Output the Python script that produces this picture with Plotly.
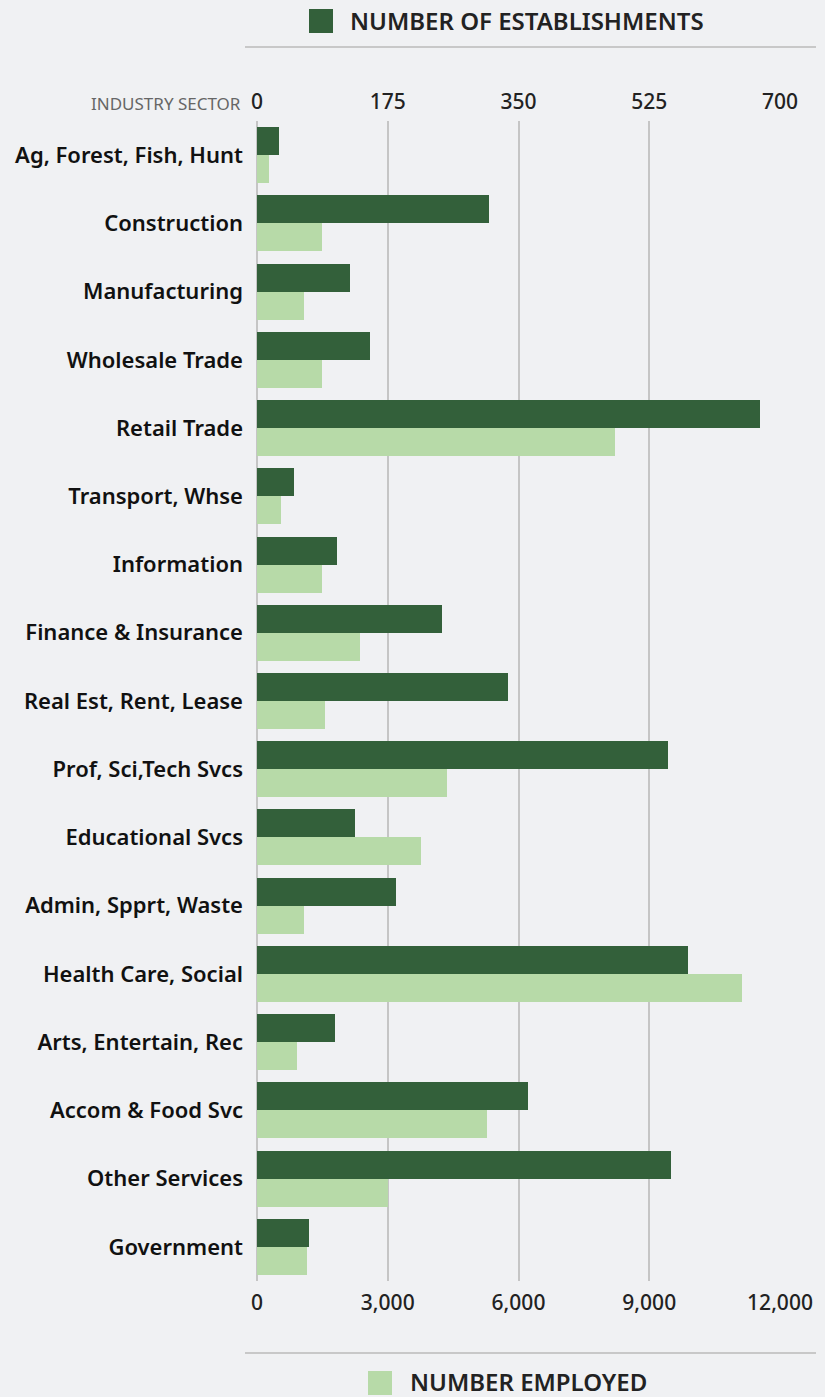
import plotly.graph_objects as go

# Industry sectors, top to bottom
sectors = [
    "Ag, Forest, Fish, Hunt", "Construction", "Manufacturing", "Wholesale Trade",
    "Retail Trade", "Transport, Whse", "Information", "Finance & Insurance",
    "Real Est, Rent, Lease", "Prof, Sci,Tech Svcs", "Educational Svcs",
    "Admin, Spprt, Waste", "Health Care, Social", "Arts, Entertain, Rec",
    "Accom & Food Svc", "Other Services", "Government",
]
establishments = [29, 311, 124, 151, 673, 49, 107, 248, 336, 550, 131, 186, 577, 104, 363, 554, 69]
employed = [270, 1490, 1070, 1490, 8210, 550, 1490, 2360, 1560, 4350, 3760, 1070, 11130, 910, 5270, 3000, 1140]

est_ticks = [0, 175, 350, 525, 700]
emp_ticks = [0, 3000, 6000, 9000, 12000]

DARK = "#33603a"
LIGHT = "#b7daa8"
BG = "#f0f1f3"
GRID = "#c5c5c5"

W, H = 825, 1397
L, R, T, B = 257, 780, 121, 1281  # plot area in pixels


def px(x, y):
    """pixel position -> paper coordinates"""
    return (x - L) / (R - L), (B - y) / (B - T)


fig = go.Figure()

fig.add_trace(go.Bar(
    y=sectors, x=establishments, orientation="h", xaxis="x2",
    marker=dict(color=DARK, line=dict(width=0)),
    width=0.41, offset=-0.41, name="Number of Establishments",
))
fig.add_trace(go.Bar(
    y=sectors, x=employed, orientation="h", xaxis="x",
    marker=dict(color=LIGHT, line=dict(width=0)),
    width=0.41, offset=0, name="Number Employed",
))

tickfont = dict(family="Noto Sans", size=21, color="#222222", weight=500)

fig.update_layout(
    width=W, height=H,
    margin=dict(l=L, r=W - R, t=T, b=H - B, pad=0),
    paper_bgcolor=BG, plot_bgcolor=BG,
    showlegend=False,
    bargap=0,
    xaxis=dict(
        range=[0, 12000.01], tickvals=emp_ticks,
        ticktext=[f"{v:,}" for v in emp_ticks],
        showgrid=True, gridcolor=GRID, gridwidth=1.5, zeroline=True,
        zerolinecolor=GRID, zerolinewidth=2,
        tickfont=tickfont, ticks="", ticklabelstandoff=7, fixedrange=True,
    ),
    xaxis2=dict(
        range=[0, 700.0005], tickvals=est_ticks, overlaying="x", side="top",
        showgrid=False, zeroline=False,
        tickfont=tickfont, ticks="", ticklabelstandoff=7, fixedrange=True,
    ),
    yaxis=dict(
        autorange="reversed", showgrid=False, zeroline=False, ticks="",
        tickfont=dict(family="Noto Sans", size=22, color="#111111", weight=600),
        ticklabelstandoff=13, fixedrange=True,
    ),
)

# horizontal rules above and below the axes
for yy in (47, 1353):
    x0, y0 = px(245, yy)
    x1, _ = px(816, yy)
    fig.add_shape(type="line", xref="paper", yref="paper",
                  x0=x0, x1=x1, y0=y0, y1=y0,
                  line=dict(color="#c8c8c8", width=2))

# legend swatches and titles
legend_items = [
    (309, 9, DARK, 349, 21, "NUMBER OF ESTABLISHMENTS"),
    (368, 1371, LIGHT, 409, 1381, "NUMBER EMPLOYED"),
]
for sx, sy, col, tx, ty, label in legend_items:
    x0, y0 = px(sx, sy)
    x1, y1 = px(sx + 24, sy + 24)
    fig.add_shape(type="rect", xref="paper", yref="paper",
                  x0=x0, x1=x1, y0=y0, y1=y1,
                  fillcolor=col, line=dict(width=0))
    ax, ay = px(tx, ty)
    fig.add_annotation(x=ax, y=ay, xref="paper", yref="paper",
                       text=label, showarrow=False, xanchor="left", yanchor="middle",
                       borderpad=0,
                       font=dict(family="Noto Sans", size=24, color="#222222", weight=600))

ax, ay = px(243, 103)
fig.add_annotation(x=ax, y=ay, xref="paper", yref="paper",
                   text="INDUSTRY SECTOR", showarrow=False,
                   xanchor="right", yanchor="middle",
                   font=dict(family="Noto Sans", size=17, color="#666666"))

fig.write_html("out.html", config={"displayModeBar": False},
               post_script="document.body.style.margin='0';")
